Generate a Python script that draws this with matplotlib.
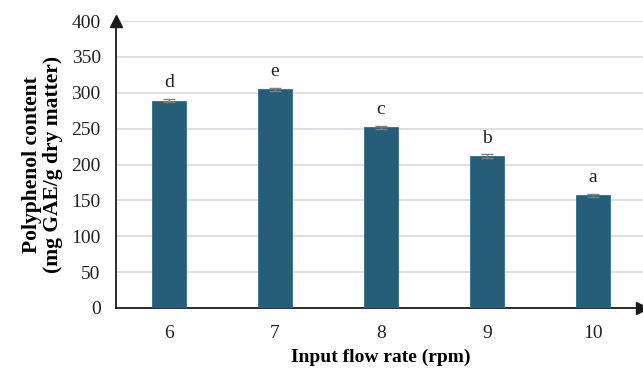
import matplotlib.pyplot as plt
import numpy as np

plt.rcParams['font.family'] = ['Liberation Serif', 'DejaVu Serif']

flow_rates = ["6", "7", "8", "9", "10"]
polyphenol = [289, 305, 252, 212, 157]
errors = [2.5, 2.0, 2.0, 2.5, 2.0]
letters = ["d", "e", "c", "b", "a"]

fig = plt.figure(figsize=(6.43, 3.70), dpi=100)
ax = fig.add_axes([116 / 643, 62 / 370, 530 / 643, 287 / 370])

x = np.arange(len(flow_rates))
ax.bar(x, polyphenol, width=0.32, color="#265E7A", edgecolor="#2E6E8C",
       linewidth=0.6, zorder=3)
ax.errorbar(x, polyphenol, yerr=errors, fmt="none", ecolor="#7F7F7F",
            elinewidth=1, capsize=4, capthick=1, zorder=4)

for xi, v, lab in zip(x, polyphenol, letters):
    ax.text(xi, v + 13, lab, ha="center", va="bottom", fontsize=14,
            color="#222222")

ax.set_xlim(-0.5, 4.5)
ax.set_ylim(0, 400)
ax.set_yticks(range(0, 401, 50))
ax.set_xticks(x)
ax.set_xticklabels(flow_rates)
ax.tick_params(axis="both", length=0, labelsize=14, colors="#222222")
ax.tick_params(axis="y", pad=11)
ax.tick_params(axis="x", pad=12)
ax.grid(axis="y", color="#D9D9E3", linewidth=1.2, zorder=0)

for side in ["top", "right"]:
    ax.spines[side].set_visible(False)
for side in ["left", "bottom"]:
    ax.spines[side].set_color("#1a1a1a")
    ax.spines[side].set_linewidth(1.3)

# arrow heads on the axes
ax.plot(0, 1, marker="^", color="#1a1a1a", markersize=8,
        transform=ax.transAxes, clip_on=False, zorder=5)
ax.plot((642 - 116) / 530, 0, marker=">", color="#1a1a1a", markersize=8,
        transform=ax.transAxes, clip_on=False, zorder=5)

ax.set_ylabel("Polyphenol content\n(mg GAE/g dry matter)", fontsize=15.5,
              fontweight="bold", labelpad=6, linespacing=1.05)
ax.set_xlabel("Input flow rate (rpm)", fontsize=14, fontweight="bold",
              labelpad=5)

plt.savefig("out.png", dpi=100)
